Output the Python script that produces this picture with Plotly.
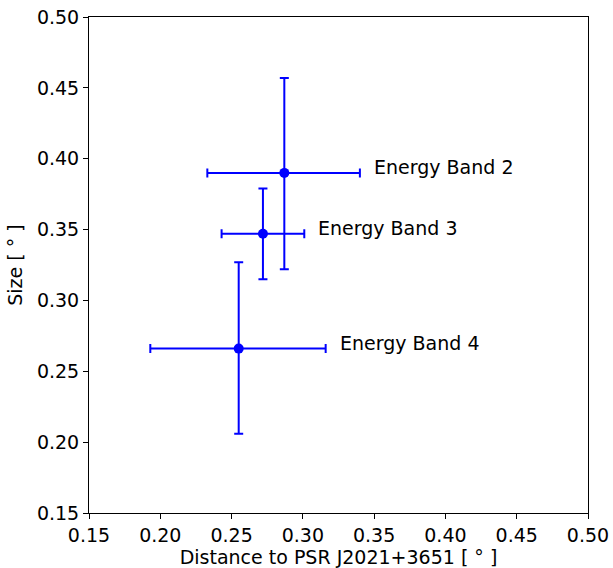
import plotly.graph_objects as go

labels = ["Energy Band 2", "Energy Band 3", "Energy Band 4"]
dist = [0.287, 0.272, 0.255]
dist_lo = [0.233, 0.243, 0.193]
dist_hi = [0.340, 0.301, 0.316]
size = [0.390, 0.347, 0.266]
size_lo = [0.322, 0.315, 0.206]
size_hi = [0.457, 0.379, 0.327]

xticks = [0.15, 0.20, 0.25, 0.30, 0.35, 0.40, 0.45, 0.50]
yticks = [0.15, 0.20, 0.25, 0.30, 0.35, 0.40, 0.45, 0.50]

font = "DejaVu Sans"
fs = 19
fig = go.Figure()
fig.add_trace(go.Scatter(
    x=dist, y=size, mode="markers",
    marker=dict(color="blue", size=10),
    error_x=dict(type="data", symmetric=False,
                 array=[h - c for h, c in zip(dist_hi, dist)],
                 arrayminus=[c - l for c, l in zip(dist, dist_lo)],
                 color="blue", thickness=2, width=4.5),
    error_y=dict(type="data", symmetric=False,
                 array=[h - c for h, c in zip(size_hi, size)],
                 arrayminus=[c - l for c, l in zip(size, size_lo)],
                 color="blue", thickness=2, width=4.5),
    showlegend=False,
))

for lab, xh, y in zip(labels, dist_hi, size):
    fig.add_annotation(x=xh + 0.0085, y=y + 0.004, text=lab, showarrow=False,
                       xanchor="left", yanchor="middle",
                       font=dict(family=font, size=fs, color="black"))

axis_common = dict(
    showgrid=False, zeroline=False, showline=True, linecolor="black",
    linewidth=1, mirror=True, ticks="outside", ticklen=5, tickwidth=1,
    tickcolor="black", tickfont=dict(family=font, size=fs, color="black"),
    tickformat=".2f", automargin=False,
)
fig.update_xaxes(range=[0.15, 0.50], tickvals=xticks,
                 title=dict(text="Distance to PSR J2021+3651 [ ° ]",
                            font=dict(family=font, size=fs, color="black"),
                            standoff=4),
                 **axis_common)
fig.update_yaxes(range=[0.15, 0.50], tickvals=yticks,
                 title=dict(text="Size [ ° ]",
                            font=dict(family=font, size=fs, color="black"),
                            standoff=9),
                 **axis_common)
fig.update_layout(
    width=613, height=568, autosize=False,
    margin=dict(l=89, r=25, t=17, b=55),
    plot_bgcolor="white", paper_bgcolor="white",
)
fig.write_html("out.html", config={"displayModeBar": False},
               post_script="document.body.style.margin='0px';")
